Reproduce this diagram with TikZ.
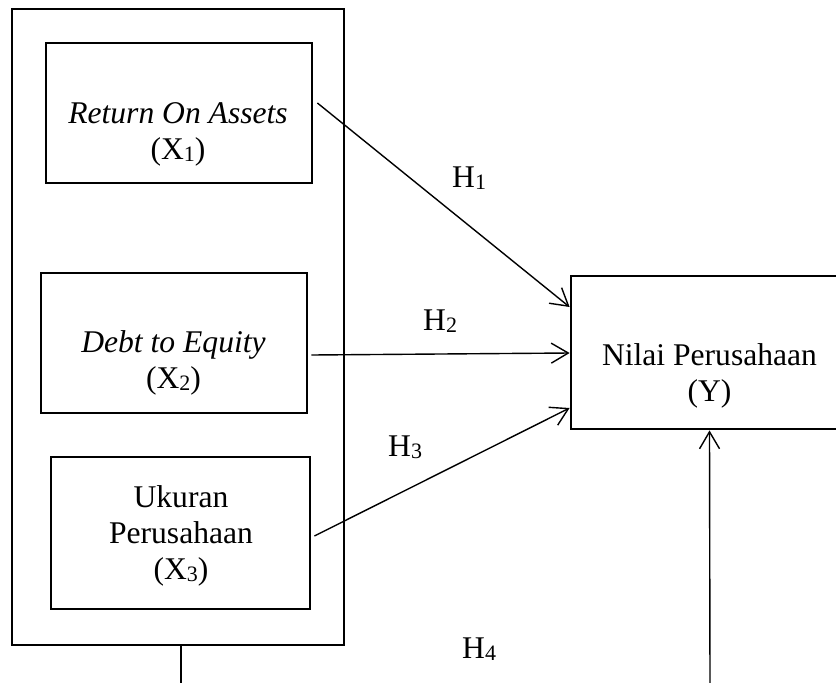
\documentclass[tikz,border=0pt]{standalone}
\usepackage{fontspec}
\setmainfont{Liberation Serif}
\usetikzlibrary{arrows.meta}
\newcommand{\mysb}[1]{\raisebox{-2pt}{\fontsize{22}{22}\selectfont #1}}
\begin{document}
\begin{tikzpicture}[x=1pt,y=-1pt,
  txt/.style={font=\fontsize{31.6}{36}\selectfont, align=center, inner sep=0pt},
  box/.style={draw, line width=2.8pt, inner sep=0pt},
  conn/.style={line width=1.4pt},
  arr/.style={conn, -{Straight Barb[length=17pt,width=20pt]}},
  hlab/.style={font=\fontsize{31.6}{36}\selectfont, inner sep=0pt, anchor=base west}]
\useasboundingbox (0,0) rectangle (836,683);
\clip (0,0) rectangle (836,683);
% boxes
\node[box, minimum width=332pt, minimum height=636pt] (outer) at (178,327) {};
\node[box, minimum width=266pt, minimum height=140pt] (roa) at (179,113) {};
\node[box, minimum width=266pt, minimum height=140pt] (der) at (174,343) {};
\node[box, minimum width=259pt, minimum height=152pt] (up) at (180.5,533) {};
\node[box, minimum width=277pt, minimum height=153pt] (nilai) at (709.5,352.5) {};
% texts
\node[txt] (troa) at (178,134) {\textit{Return On Assets}\\(X\mysb{1})};
\node[txt] (tder) at (173.5,363) {\textit{Debt to Equity}\\(X\mysb{2})};
\node[txt] (tup) at (181,536) {Ukuran\\Perusahaan\\(X\mysb{3})};
\node[txt] (tnilai) at (709.5,376) {Nilai Perusahaan\\(Y)};
% hypothesis labels
\node[hlab] (h1) at (452,187) {H\mysb{1}};
\node[hlab] (h2) at (423,330) {H\mysb{2}};
\node[hlab] (h3) at (388,456) {H\mysb{3}};
\node[hlab] (h4) at (462,658) {H\mysb{4}};
% connectors
\coordinate (b1) at (181,683);
\coordinate (b2) at (710,683);
\draw[arr] ([xshift=4pt,yshift=10pt]roa.east) -- ([yshift=45.5pt]nilai.west);
\draw[arr] ([xshift=3pt,yshift=-12pt]der.east) -- ([yshift=-0.5pt]nilai.west);
\draw[arr] ([xshift=3pt,yshift=-3pt]up.east) -- ([yshift=-55.5pt]nilai.west);
\draw[conn] ([xshift=3pt]outer.south) -- (b1);
\draw[arr] (b2) -- (nilai.south);
\end{tikzpicture}
\end{document}
